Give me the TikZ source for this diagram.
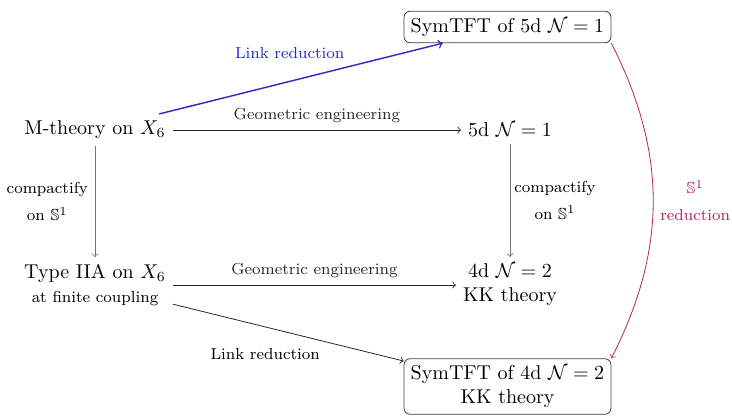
\documentclass[tikz,border=0pt]{standalone}
\usepackage{amsmath,amssymb}
\definecolor{linkblue}{RGB}{40,40,210}
\definecolor{redcol}{RGB}{180,35,95}
\begin{document}
\begin{tikzpicture}[x=0.5pt,y=-0.5pt, >=to,
  box/.style={draw=black!75, rounded corners=3pt, align=center},
  arr/.style={->, black!85},
  varr/.style={->, black!55},
  lab/.style={font=\footnotesize}]
\useasboundingbox (0,0) rectangle (732,418);
\node (m) at (95,130) {M-theory on $X_6$};
\node (d5) at (510,130) {5d $\mathcal{N}=1$};
\node[align=center] (iia) at (95,285) {Type IIA on $X_6$\\{\footnotesize at finite coupling}};
\node[align=center] (d4) at (510,285) {4d $\mathcal{N}=2$\\KK theory};
\node[box] (s5) at (507.5,27) {SymTFT of 5d $\mathcal{N}=1$};
\node[box] (s4) at (507.5,386.5) {SymTFT of 4d $\mathcal{N}=2$\\KK theory};
\draw[arr] (m) -- node[above, lab]{Geometric engineering} (d5);
\draw[arr] (iia) -- node[above, lab]{Geometric engineering} (d4);
\draw[varr] (m) -- node[left, lab, text=black, align=center]{compactify\\[4pt]on $\mathbb{S}^1$} (iia);
\draw[varr] (d5) -- node[right, lab, text=black, inner sep=2pt, align=center]{compactify\\[4pt]on $\mathbb{S}^1$} (d4);
\draw[arr, linkblue, line width=0.7pt] (m) -- node[pos=0.46, above=7.5pt, lab]{Link reduction} (s5);
\draw[arr] (iia) -- node[pos=0.4, below=7pt, lab, text=black]{Link reduction} (s4);
\draw[arr, redcol] (s5.south east) to[bend left=27] node[right, lab, align=center]{$\mathbb{S}^1$\\[4pt]reduction} (s4.north east);
\end{tikzpicture}
\end{document}
